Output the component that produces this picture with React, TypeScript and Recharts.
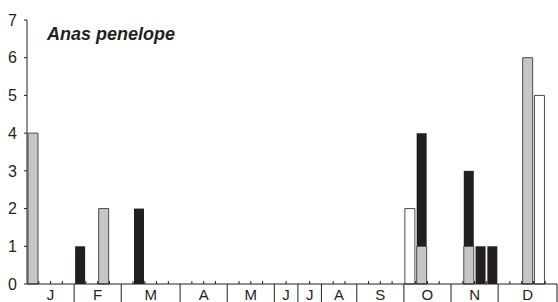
import React from 'react';
import { BarChart, Bar, XAxis, YAxis } from 'recharts';

// months and how many periods (slots) each one holds on the axis
const MONTHS = ['J', 'F', 'M', 'A', 'M', 'J', 'J', 'A', 'S', 'O', 'N', 'D'];
const SLOTS_PER_MONTH = [4, 4, 5, 4, 4, 2, 2, 3, 4, 4, 4, 5];

// one value per slot (45 slots), null = no bar
const GRAY = [
  4, null, null, null,
  null, null, 2, null,
  null, null, null, null, null,
  null, null, null, null,
  null, null, null, null,
  null, null,
  null, null,
  null, null, null,
  null, null, null, null,
  null, 1, null, null,
  null, 1, null, null,
  null, null, 6, null, null,
];
const BLACK = [
  null, null, null, null,
  1, null, null, null,
  null, 2, null, null, null,
  null, null, null, null,
  null, null, null, null,
  null, null,
  null, null,
  null, null, null,
  null, null, null, null,
  null, 3, null, null,
  null, 2, 1, 1,
  null, null, null, null, null,
];
const WHITE = [
  null, null, null, null,
  null, null, null, null,
  null, null, null, null, null,
  null, null, null, null,
  null, null, null, null,
  null, null,
  null, null,
  null, null, null,
  null, null, null, null,
  2, null, null, null,
  null, null, null, null,
  null, null, null, 5, null,
];
const Y_TICKS = [0, 1, 2, 3, 4, 5, 6, 7];

const W = 558;
const H = 302;
const MARGIN = { top: 20, right: 1, bottom: 0, left: 0 };
const Y_W = 27;
const X_H = 18;
const INK = '#231f20';
const FONT = '"Liberation Sans Narrow", "Liberation Sans", Arial, sans-serif';

// slot -> month index, and which slot starts each month
const slotMonth: number[] = [];
const monthStart: number[] = [];
SLOTS_PER_MONTH.forEach((n, m) => {
  monthStart.push(slotMonth.length);
  for (let i = 0; i < n; i++) slotMonth.push(m);
});

const data = slotMonth.map((m, i) => ({
  slot: i,
  gray: GRAY[i],
  black: BLACK[i],
  white: WHITE[i],
}));

const BAND = (W - MARGIN.left - MARGIN.right - Y_W) / data.length;

const MonthTick = (props: any) => {
  const { x, y, payload } = props;
  const i = payload.index ?? payload.value;
  const m = slotMonth[i];
  const left = x - BAND / 2;
  const isStart = monthStart[m] === i;
  const isLast = i === data.length - 1;
  return (
    <g>
      {!isStart && <line x1={left} x2={left} y1={y} y2={y - 3} stroke={INK} strokeWidth={1} />}
      {isStart && i > 0 && <line x1={left} x2={left} y1={y} y2={H} stroke={INK} strokeWidth={1} />}
      {isLast && <line x1={left + BAND} x2={left + BAND} y1={y} y2={H} stroke={INK} strokeWidth={1} />}
      {isStart && (
        <text
          x={left + (SLOTS_PER_MONTH[m] * BAND) / 2}
          y={y + 16}
          textAnchor="middle"
          fontSize={15}
          fontFamily={FONT}
          fill={INK}
        >
          {MONTHS[m]}
        </text>
      )}
    </g>
  );
};

export default function App() {
  return (
    <div style={{ position: 'absolute', left: 0, top: 0, width: W, height: H, background: '#fff' }}>
      <BarChart width={W} height={H} data={data} margin={MARGIN} barSize={10}>
        <XAxis
          dataKey="slot"
          type="category"
          height={X_H}
          interval={0}
          tickLine={false}
          tickSize={0}
          tickMargin={0}
          axisLine={{ stroke: INK }}
          tick={<MonthTick />}
        />
        <YAxis
          width={Y_W}
          domain={[0, 7]}
          ticks={Y_TICKS}
          interval={0}
          tickSize={3}
          tickMargin={7}
          axisLine={{ stroke: INK }}
          tickLine={{ stroke: INK }}
          tick={{ fontSize: 16, fill: INK, fontFamily: FONT }}
        />
        <Bar dataKey="gray" stackId="a" fill="#c6c6c6" stroke="#4a4a4a" strokeWidth={1} isAnimationActive={false} />
        <Bar dataKey="black" stackId="a" fill={INK} isAnimationActive={false} />
        <Bar dataKey="white" stackId="a" fill="#ffffff" stroke="#4a4a4a" strokeWidth={1} isAnimationActive={false} />
      </BarChart>
      <div
        style={{
          position: 'absolute',
          left: 47,
          top: 23,
          fontFamily: '"Liberation Sans", Arial, sans-serif',
          fontWeight: 'bold',
          fontStyle: 'italic',
          fontSize: 18,
          lineHeight: '22px',
          color: INK,
        }}
      >
        Anas penelope
      </div>
    </div>
  );
}
